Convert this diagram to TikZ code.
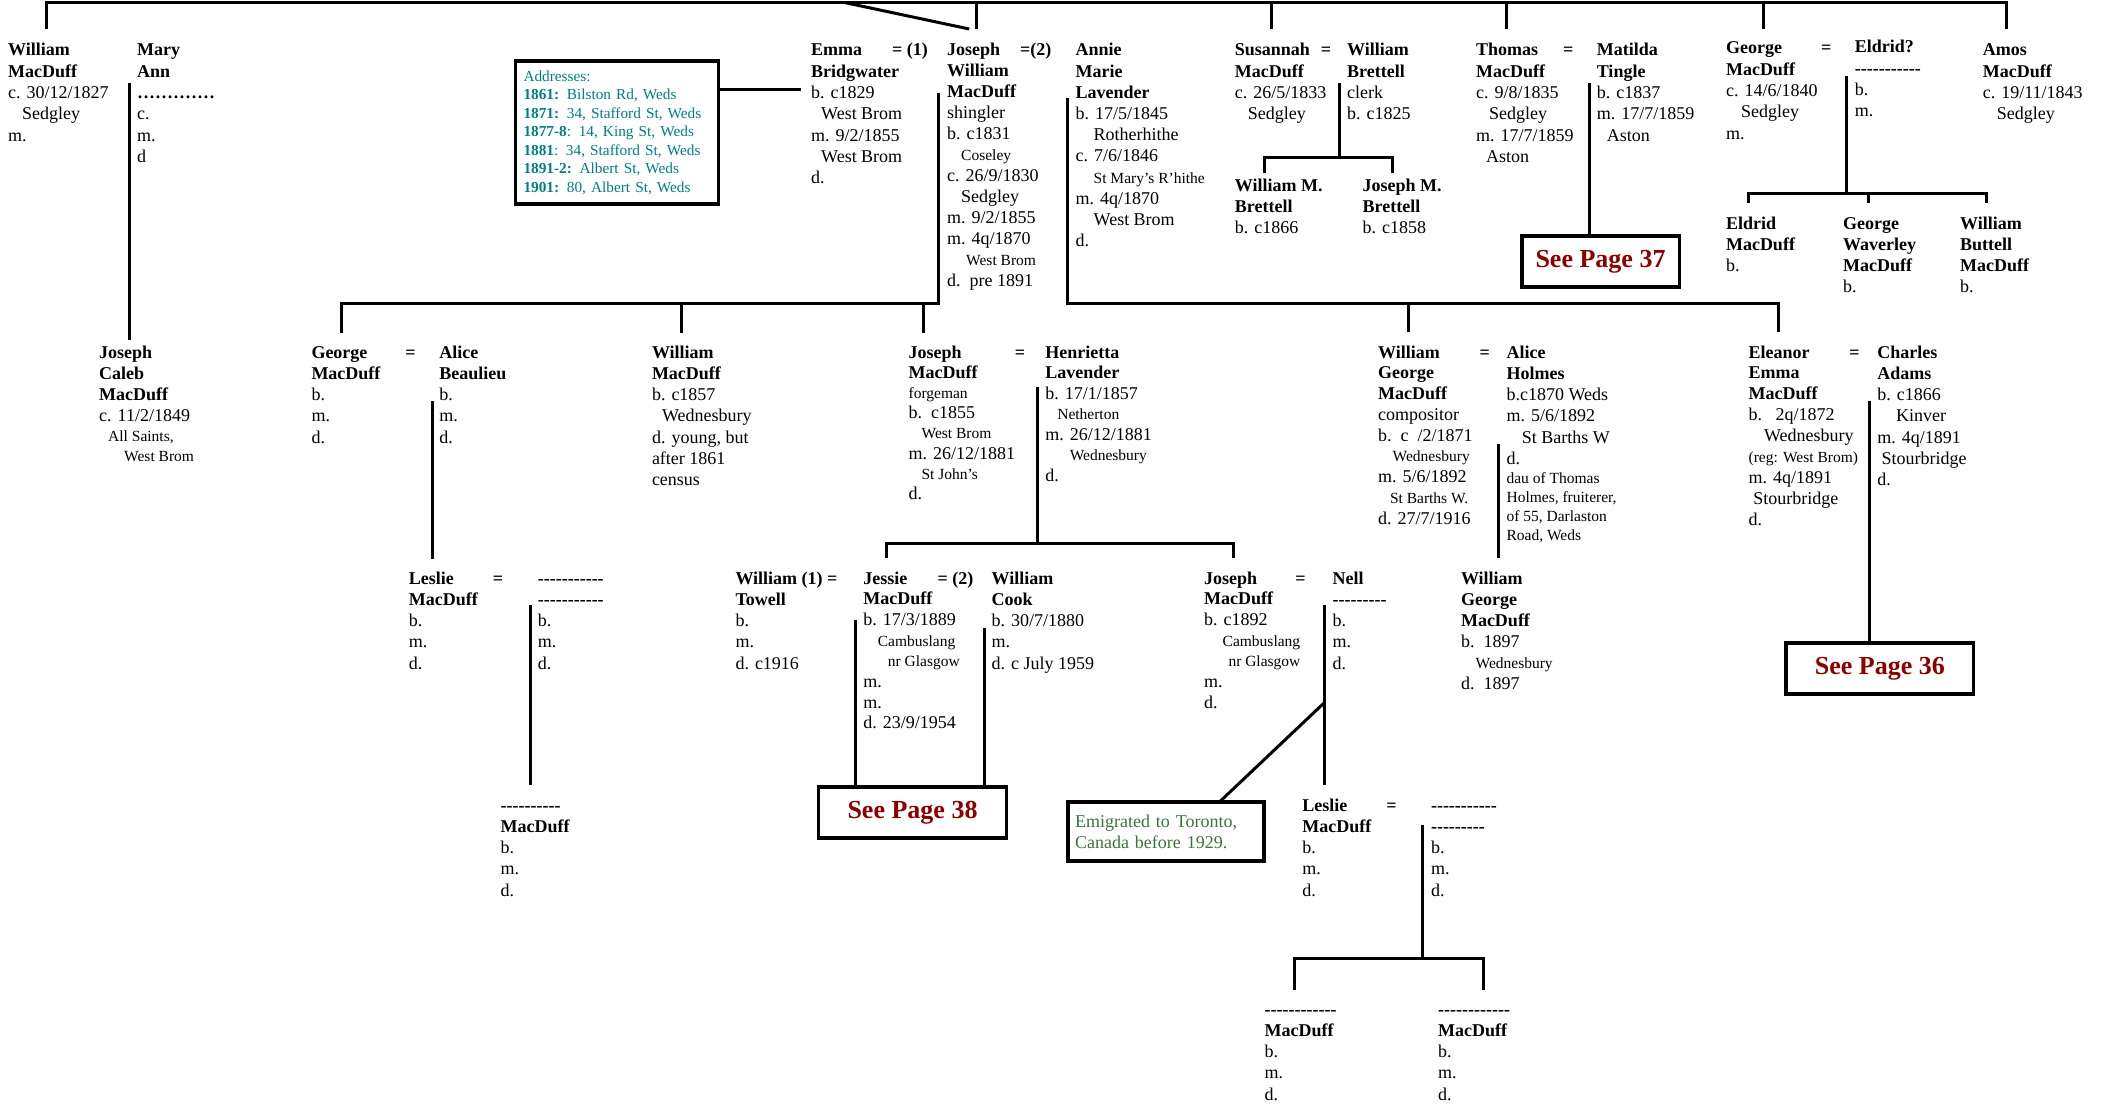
\documentclass[tikz,border=0pt]{standalone}
\usepackage{fontspec}
\setmainfont{Liberation Serif}
\definecolor{addrteal}{RGB}{0,128,128}
\definecolor{pagered}{RGB}{140,0,0}
\definecolor{emigreen}{RGB}{56,118,56}
\newcommand\smt[1]{{\fontsize{15.5}{18}\selectfont #1}}
\newcommand\hs[1]{\hspace*{#1pt}}
\newcommand\nmq[2]{\makebox[#1pt][l]{\textbf{#2}}}
\newcommand\dashes[1]{\textbf{\foreach \i in {1,...,#1}{-}}}
\newcommand\pl[1]{\begin{tabular}[t]{@{}l@{}}#1\end{tabular}}
\tikzset{
  pp/.style={anchor=base west, inner sep=0pt, font=\fontsize{18}{21.3}\selectfont},
  ln/.style={line width=3pt, line join=miter},
  pagebox/.style={draw, line width=3.5pt, font=\fontsize{26}{30}\selectfont\bfseries, text=pagered, inner sep=0pt},
  notebox/.style={draw, line width=3.5pt, align=left, inner ysep=0pt}
}
\begin{document}
\begin{tikzpicture}[x=1pt,y=-1pt]
\useasboundingbox (0,0) rectangle (2105,1105);
\fill[white] (0,0) rectangle (2105,1105);

% ---------- generation 1 ----------
\node[pp] (wm) at (8,56) {\pl{\textbf{William}\\\textbf{MacDuff}\\c. 30/12/1827\\\hs{14}Sedgley\\m.}};
\node[pp] (ma) at (137,56) {\pl{\textbf{Mary}\\\textbf{Ann}\\\hbox to 78pt{\cleaders\hbox to 6pt{\hss\textbf{.}\hss}\hfill}\\c.\\m.\\d}};
\node[pp] (jc) at (99,358) {\pl{\textbf{Joseph}\\\textbf{Caleb}\\\textbf{MacDuff}\\c. 11/2/1849\\[-1.5pt]\smt{\hs{9}All Saints,}\\[-2pt]\smt{\hs{25}West Brom}}};

\node[notebox, text width=187pt, inner xsep=8pt, minimum height=143pt, text=addrteal, font=\fontsize{15.3}{18.5}\selectfont] (addr) at (617,132.5)
 {Addresses:\\\textbf{1861:} Bilston Rd, Weds\\\textbf{1871:} 34, Stafford St, Weds\\\textbf{1877-8}: 14, King St, Weds\\\textbf{1881}: 34, Stafford St, Weds\\\textbf{1891-2:} Albert St, Weds\\\textbf{1901:} 80, Albert St, Weds};

\node[pp] (emma) at (811,56) {\pl{\nmq{81}{Emma}\textbf{= (1)}\\\textbf{Bridgwater}\\b. c1829\\\hs{10}West Brom\\m. 9/2/1855\\\hs{10}West Brom\\d.}};
\node[pp,font=\fontsize{18}{21}\selectfont] (jw) at (947,56) {\pl{\nmq{73}{Joseph}\textbf{=(2)}\\\textbf{William}\\\textbf{MacDuff}\\shingler\\b. c1831\\\smt{\hs{14}Coseley}\\c. 26/9/1830\\\hs{14}Sedgley\\m. 9/2/1855\\m. 4q/1870\\\smt{\hs{19}West Brom}\\d.\ \ pre 1891}};
\node[pp,font=\fontsize{18}{21.2}\selectfont] (amv) at (1075.5,56) {\pl{\textbf{Annie}\\\textbf{Marie}\\\textbf{Lavender}\\b. 17/5/1845\\\hs{18}Rotherhithe\\c. 7/6/1846\\\smt{\hs{18}St Mary’s R’hithe}\\m. 4q/1870\\\hs{18}West Brom\\d.}};
\node[pp] (sus) at (1234.7,56) {\pl{\nmq{86}{Susannah}\textbf{=}\\\textbf{MacDuff}\\c. 26/5/1833\\\hs{13}Sedgley}};
\node[pp] (wb) at (1347,56) {\pl{\textbf{William}\\\textbf{Brettell}\\clerk\\b. c1825}};
\node[pp] (wmb) at (1234.7,191) {\pl{\textbf{William M.}\\\textbf{Brettell}\\b. c1866}};
\node[pp] (jmb) at (1362.5,191) {\pl{\textbf{Joseph M.}\\\textbf{Brettell}\\b. c1858}};
\node[pp] (tm) at (1476,56) {\pl{\nmq{87}{Thomas}\textbf{=}\\\textbf{MacDuff}\\c. 9/8/1835\\\hs{13}Sedgley\\m. 17/7/1859\\\hs{10}Aston}};
\node[pp] (mt) at (1596.6,56) {\pl{\textbf{Matilda}\\\textbf{Tingle}\\b. c1837\\m. 17/7/1859\\\hs{10}Aston}};
\node[pp] (gm) at (1725.8,54) {\pl{\nmq{95}{George}\textbf{=}\\\textbf{MacDuff}\\c. 14/6/1840\\\hs{15}Sedgley\\m.}};
\node[pp] (eld) at (1854.6,53) {\pl{\textbf{Eldrid?}\\\dashes{11}\\b.\\m.}};
\node[pp] (amos) at (1982.6,56) {\pl{\textbf{Amos}\\\textbf{MacDuff}\\c. 19/11/1843\\\hs{14}Sedgley}};
\node[pp] (edm) at (1725.8,229) {\pl{\textbf{Eldrid}\\\textbf{MacDuff}\\b.}};
\node[pp] (gwm) at (1842.9,229) {\pl{\textbf{George}\\\textbf{Waverley}\\\textbf{MacDuff}\\b.}};
\node[pp] (wbm) at (1960,229) {\pl{\textbf{William}\\\textbf{Buttell}\\\textbf{MacDuff}\\b.}};
\node[pagebox, minimum width=157.5pt, minimum height=51pt] (sp37) at (1600.5,261.5) {See Page 37};

% ---------- generation 2 ----------
\node[pp] (gm2) at (311.3,358) {\pl{\nmq{94}{George}\textbf{=}\\\textbf{MacDuff}\\b.\\m.\\d.}};
\node[pp] (ab) at (439.1,358) {\pl{\textbf{Alice}\\\textbf{Beaulieu}\\b.\\m.\\d.}};
\node[pp] (wm2) at (651.8,358) {\pl{\textbf{William}\\\textbf{MacDuff}\\b. c1857\\\hs{10}Wednesbury\\d. young, but\\after 1861\\census}};
\node[pp,font=\fontsize{18}{20.2}\selectfont] (jm2) at (908.4,358) {\pl{\nmq{106.4}{Joseph}\textbf{=}\\\textbf{MacDuff}\\\smt{forgeman}\\b.\ \ c1855\\\smt{\hs{13}West Brom}\\m. 26/12/1881\\\smt{\hs{13}St John’s}\\d.}};
\node[pp,font=\fontsize{18}{20.5}\selectfont] (hl) at (1045.1,358) {\pl{\textbf{Henrietta}\\\textbf{Lavender}\\b. 17/1/1857\\\smt{\hs{12}Netherton}\\m. 26/12/1881\\\smt{\hs{24.5}Wednesbury}\\d.}};
\node[pp,font=\fontsize{18}{20.75}\selectfont] (wgm) at (1378,358) {\pl{\nmq{101.4}{William}\textbf{=}\\\textbf{George}\\\textbf{MacDuff}\\compositor\\b.\ \ c\ \ /2/1871\\\smt{\hs{14.5}Wednesbury}\\m. 5/6/1892\\\smt{\hs{11.8}St Barths W.}\\d. 27/7/1916}};
\node[pp] (ah) at (1506.4,358) {\pl{\textbf{Alice}\\\textbf{Holmes}\\b.c1870 Weds\\m. 5/6/1892\\\hs{15.3}St Barths W\\d.\\[-2.3pt]\smt{dau of Thomas}\\[-2.3pt]\smt{Holmes, fruiterer,}\\[-2.3pt]\smt{of 55, Darlaston}\\[-2.3pt]\smt{Road, Weds}}};
\node[pp,font=\fontsize{18}{20.9}\selectfont] (eem) at (1748.4,358) {\pl{\nmq{100.7}{Eleanor}\textbf{=}\\\textbf{Emma}\\\textbf{MacDuff}\\b.\ \ \ 2q/1872\\\hs{15.4}Wednesbury\\\smt{(reg: West Brom)}\\m. 4q/1891\\\hs{4.8}Stourbridge\\d.}};
\node[pp] (ca) at (1877.1,358) {\pl{\textbf{Charles}\\\textbf{Adams}\\b. c1866\\\hs{18.7}Kinver\\m. 4q/1891\\\hs{4.4}Stourbridge\\d.}};
\node[pagebox, minimum width=187.6pt, minimum height=51pt] (sp36) at (1879.8,668.5) {See Page 36};

% ---------- generation 3 ----------
\node[pp] (lm) at (408.7,584) {\pl{\nmq{84}{Leslie}\textbf{=}\\\textbf{MacDuff}\\b.\\m.\\d.}};
\node[pp] (lsp) at (537.6,584) {\pl{\dashes{11}\\\dashes{11}\\b.\\m.\\d.}};
\node[pp] (wt) at (735.3,584) {\pl{\textbf{William (1) =}\\\textbf{Towell}\\b.\\m.\\d. c1916}};
\node[pp,font=\fontsize{18}{20.7}\selectfont] (jes) at (863.1,584) {\pl{\nmq{74.3}{Jessie}\textbf{= (2)}\\\textbf{MacDuff}\\b. 17/3/1889\\\smt{\hs{14.5}Cambuslang}\\\smt{\hs{24.6}nr Glasgow}\\m.\\m.\\d. 23/9/1954}};
\node[pp] (wc) at (991.5,584) {\pl{\textbf{William}\\\textbf{Cook}\\b. 30/7/1880\\m.\\d. c July 1959}};
\node[pagebox, minimum width=188pt, minimum height=51pt] (sp38) at (912.5,812.5) {See Page 38};
\node[pp,font=\fontsize{18}{20.7}\selectfont] (jm3) at (1203.9,584) {\pl{\nmq{91.3}{Joseph}\textbf{=}\\\textbf{MacDuff}\\b. c1892\\\smt{\hs{18.6}Cambuslang}\\\smt{\hs{24.4}nr Glasgow}\\m.\\d.}};
\node[pp] (nell) at (1332.4,584) {\pl{\textbf{Nell}\\\dashes{9}\\b.\\m.\\d.}};
\node[pp,font=\fontsize{18}{21}\selectfont] (wgm2) at (1460.8,584) {\pl{\textbf{William}\\\textbf{George}\\\textbf{MacDuff}\\b.\ \ 1897\\\smt{\hs{14.6}Wednesbury}\\d.\ \ 1897}};
\node[notebox, text width=182pt, inner xsep=7pt, minimum height=59pt, text=emigreen, font=\fontsize{18}{21}\selectfont] (emig) at (1166,831.5) {Emigrated to Toronto,\\Canada before 1929.};

% ---------- generation 4 / 5 ----------
\node[pp] (chd) at (500.4,811) {\pl{\dashes{10}\\\textbf{MacDuff}\\b.\\m.\\d.}};
\node[pp] (lm4) at (1302.2,811) {\pl{\nmq{83.9}{Leslie}\textbf{=}\\\textbf{MacDuff}\\b.\\m.\\d.}};
\node[pp] (lsp4) at (1430.8,811) {\pl{\dashes{11}\\\dashes{9}\\b.\\m.\\d.}};
\node[pp] (c5a) at (1264.4,1015) {\pl{\dashes{12}\\\textbf{MacDuff}\\b.\\m.\\d.}};
\node[pp] (c5b) at (1437.9,1015) {\pl{\dashes{12}\\\textbf{MacDuff}\\b.\\m.\\d.}};

% ---------- connector points ----------
\coordinate (t0) at (46.6,29); \coordinate (t1) at (46.6,2.5); \coordinate (t2) at (2006,2.5); \coordinate (t3) at (2006,29);
\coordinate (d1a) at (976.3,2.5); \coordinate (d1b) at (976.3,29);
\coordinate (d2a) at (1271.2,2.5); \coordinate (d2b) at (1271.2,29);
\coordinate (d3a) at (1506.5,2.5); \coordinate (d3b) at (1506.5,29);
\coordinate (d4a) at (1763.5,2.5); \coordinate (d4b) at (1763.5,29);
\coordinate (dg1) at (844.5,2.5); \coordinate (dg2) at (969.2,29);
\coordinate (ma1) at (129.8,83); \coordinate (ma2) at (129.8,340);
\coordinate (em1) at (800.9,90);
\coordinate (jw1) at (938.8,93); \coordinate (jw2) at (938.8,303); \coordinate (jw3) at (341.7,303); \coordinate (jw4) at (341.7,333);
\coordinate (jw5) at (681.2,303); \coordinate (jw6) at (681.2,333); \coordinate (jw7) at (923.6,303); \coordinate (jw8) at (923.6,333);
\coordinate (an1) at (1067.4,98); \coordinate (an2) at (1067.4,303); \coordinate (an3) at (1778.1,303); \coordinate (an4) at (1778.1,332);
\coordinate (an5) at (1408.1,303); \coordinate (an6) at (1408.1,332);
\coordinate (su1) at (1339.1,83); \coordinate (su2) at (1339.1,158); \coordinate (su3) at (1264.1,173); \coordinate (su4) at (1264.1,158);
\coordinate (su5) at (1392.9,158); \coordinate (su6) at (1392.9,173);
\coordinate (th1) at (1589.4,83);
\coordinate (ge1) at (1846.4,76); \coordinate (ge2) at (1846.4,193); \coordinate (ge3) at (1748.1,203); \coordinate (ge4) at (1748.1,193);
\coordinate (ge5) at (1986.7,193); \coordinate (ge6) at (1986.7,203); \coordinate (ge7) at (1868.9,193); \coordinate (ge8) at (1868.9,203);
\coordinate (ab1) at (432,401); \coordinate (ab2) at (432,559);
\coordinate (le1) at (530.8,605); \coordinate (le2) at (530.8,785);
\coordinate (jh1) at (1037.2,387); \coordinate (jh2) at (1037.2,543); \coordinate (jh3) at (886.1,558); \coordinate (jh4) at (886.1,543);
\coordinate (jh5) at (1233.7,543); \coordinate (jh6) at (1233.7,558);
\coordinate (je1) at (855.6,620); \coordinate (wc1) at (984.3,628);
\coordinate (ne1) at (1324,605); \coordinate (ne2) at (1324,785); \coordinate (ne3) at (1324,703); \coordinate (ne4) at (1219.4,802);
\coordinate (l41) at (1422.7,825); \coordinate (l42) at (1422.7,958); \coordinate (l43) at (1294.8,990); \coordinate (l44) at (1294.8,958);
\coordinate (l45) at (1483.2,958); \coordinate (l46) at (1483.2,990);
\coordinate (ah1) at (1498.7,444); \coordinate (ah2) at (1498.7,558);
\coordinate (ch1) at (1869.2,401);

% ---------- connectors ----------
\draw[ln] (t0) -- (t1) -- (t2) -- (t3);
\draw[ln] (d1a) -- (d1b);
\draw[ln] (d2a) -- (d2b);
\draw[ln] (d3a) -- (d3b);
\draw[ln] (d4a) -- (d4b);
\draw[ln] (dg1) -- (dg2);
\draw[ln] (ma1) -- (ma2);
\draw[ln] (addr.east |- em1) -- (em1);
\draw[ln] (jw1) -- (jw2) -- (jw3) -- (jw4);
\draw[ln] (jw5) -- (jw6);
\draw[ln] (jw7) -- (jw8);
\draw[ln] (an1) -- (an2) -- (an3) -- (an4);
\draw[ln] (an5) -- (an6);
\draw[ln] (su1) -- (su2);
\draw[ln] (su3) -- (su4) -- (su5) -- (su6);
\draw[ln] (th1) -- (th1 |- sp37.north);
\draw[ln] (ge1) -- (ge2);
\draw[ln] (ge3) -- (ge4) -- (ge5) -- (ge6);
\draw[ln] (ge7) -- (ge8);
\draw[ln] (ab1) -- (ab2);
\draw[ln] (le1) -- (le2);
\draw[ln] (jh1) -- (jh2);
\draw[ln] (jh3) -- (jh4) -- (jh5) -- (jh6);
\draw[ln] (je1) -- (je1 |- sp38.north);
\draw[ln] (wc1) -- (wc1 |- sp38.north);
\draw[ln] (ne1) -- (ne2);
\draw[ln] (ne3) -- (ne4);
\draw[ln] (l41) -- (l42);
\draw[ln] (l43) -- (l44) -- (l45) -- (l46);
\draw[ln] (ah1) -- (ah2);
\draw[ln] (ch1) -- (ch1 |- sp36.north);
\end{tikzpicture}
\end{document}
